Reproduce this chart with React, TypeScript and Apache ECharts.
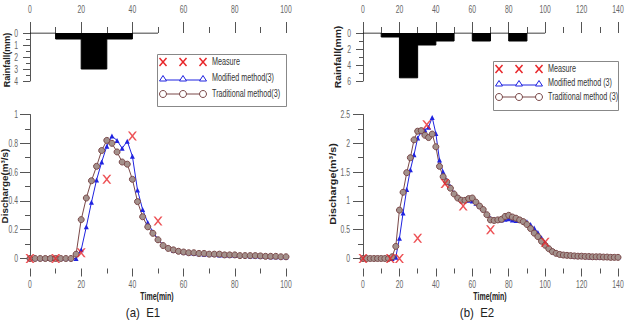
import { useEffect, useRef } from "react";
import * as echarts from "echarts";

// Sampling interval of the simulated hydrographs (minutes)
const SIM_STEP = 2;
// Rainfall is given as depths per 10-minute block
const RAIN_STEP = 10;

// Event E1
const e1Rainfall = [0, 0.5, 3, 0.5, 0];
const e1MeasureTime = [0, 10, 20, 30, 40, 50];
const e1MeasureQ = [0, 0, 0.04, 0.55, 0.85, 0.26];
const e1Modified = [
  0, 0, 0, 0, 0, 0, 0, 0, 0, 0,
  0.06, 0.22, 0.39, 0.545, 0.67, 0.78, 0.85, 0.82, 0.765, 0.815,
  0.71, 0.475, 0.34, 0.25, 0.185, 0.135, 0.095, 0.075,
  0.058, 0.05, 0.045, 0.04, 0.037, 0.033, 0.03, 0.03, 0.027, 0.025,
  0.025, 0.022, 0.02, 0.02, 0.02, 0.018, 0.018, 0.015, 0.015, 0.013,
  0.012, 0.012, 0.01,
];
const e1Traditional = [
  0, 0, 0, 0, 0, 0, 0, 0, 0,
  0.03, 0.27, 0.42, 0.54, 0.64, 0.75, 0.82, 0.8, 0.74, 0.67,
  0.655, 0.55, 0.395, 0.29, 0.22, 0.175, 0.13, 0.09, 0.07, 0.06,
  0.05, 0.045, 0.04, 0.04, 0.035, 0.035, 0.03, 0.03, 0.03, 0.025,
  0.025, 0.025, 0.02, 0.02, 0.02, 0.02, 0.018, 0.015, 0.015, 0.015,
  0.012, 0.012,
];

// Event E2
const e2Rainfall = [0, 0.5, 5.6, 1.5, 1.0, 0, 1.0, 0, 1.0, 0];
const e2MeasureTime = [0, 15, 20, 30, 35, 45, 55, 70, 100];
const e2MeasureQ = [0, 0, 0, 0.35, 2.32, 1.3, 0.91, 0.5, 0.28];
const e2Modified = [
  0, 0, 0, 0, 0, 0, 0, 0, 0,
  0.02, 0.35, 0.79, 1.2, 1.54, 1.8, 2.09, 2.2, 2.23, 2.28,
  2.45, 2.17, 1.71, 1.5, 1.36, 1.25, 1.14, 1.07, 1.02, 1.01,
  1.01, 1.0, 0.96, 0.91, 0.85, 0.77, 0.7, 0.68, 0.68, 0.67,
  0.68, 0.69, 0.67, 0.66, 0.66, 0.65, 0.64, 0.59, 0.53, 0.45,
  0.36, 0.27, 0.19, 0.13, 0.1, 0.08,
  0.065, 0.055, 0.05, 0.045, 0.04, 0.04, 0.035, 0.03, 0.03, 0.03,
  0.025, 0.025, 0.02, 0.02, 0.02, 0.02,
];
const e2Traditional = [
  0, 0, 0, 0, 0, 0, 0, 0,
  0.03, 0.21, 0.84, 1.15, 1.49, 1.75, 2.06, 2.21, 2.22, 2.14,
  2.1, 2.16, 1.94, 1.6, 1.42, 1.33, 1.22, 1.12, 1.05, 1.01,
  1.01, 1.04, 1.05, 0.98, 0.91, 0.85, 0.76, 0.67, 0.66, 0.67,
  0.68, 0.73, 0.75, 0.72, 0.7, 0.67, 0.64, 0.59, 0.52, 0.44,
  0.38, 0.3, 0.23, 0.17, 0.12, 0.09, 0.07, 0.06, 0.055, 0.05,
  0.045, 0.04, 0.04, 0.035, 0.035, 0.03, 0.03, 0.03, 0.025, 0.025,
  0.02, 0.02, 0.02,
];

// Tick labels
const e1TimeTicks = [0, 20, 40, 60, 80, 100];
const e2TimeTicks = [0, 20, 40, 60, 80, 100, 120, 140];
const e1RainTicks = [0, 1, 2, 3, 4];
const e2RainTicks = [0, 2, 4, 6];
const e1QTicks = [0, 0.2, 0.4, 0.6, 0.8, 1];
const e2QTicks = [0, 0.5, 1, 1.5, 2, 2.5];

const SANS = "'Liberation Sans', Arial, sans-serif";
const AXIS_COLOR = "#555";
const LABEL_COLOR = "#666";
const BLUE = "#1f22e0";
const BROWN = "#7a4848";
const BROWN_FILL = "#a3918c";
const RED = "#e8262a";
const X_SYMBOL = "path://M0,0L2,0L5,3.6L8,0L10,0L6,5L10,10L8,10L5,6.4L2,10L0,10L4,5Z";
// horizontal squeeze that gives the narrow look of the labels
const NARROW_X = 0.68;

const hydro = (vals: number[]) => vals.map((v, i) => [i * SIM_STEP, v]);
const pairs = (t: number[], v: number[]) => t.map((x, i) => [x, v[i]]);
// block rainfall: each value holds until the next block, closing at the end of the last block
const blocks = (r: number[]) => [...r.map((v, i) => [i * RAIN_STEP, v]), [r.length * RAIN_STEP, 0]];

const tickLine = { lineStyle: { color: AXIS_COLOR, width: 1 } };

function rainX(gridIndex: number, max: number) {
  return {
    type: "value", gridIndex, position: "top", min: 0, max, interval: 20,
    axisLine: { show: false, onZero: false },
    axisTick: { show: true, length: 11, ...tickLine },
    minorTick: { show: true, splitNumber: 2, length: 6, ...tickLine },
    splitLine: { show: false },
    axisLabel: { show: false },
  };
}
function rainY(gridIndex: number, max: number, interval: number) {
  return {
    type: "value", gridIndex, inverse: true, min: 0, max, interval,
    axisLine: { show: true, onZero: false, lineStyle: { color: AXIS_COLOR } },
    axisTick: { show: true, length: 7, ...tickLine },
    minorTick: { show: true, splitNumber: 2, length: 4, ...tickLine },
    splitLine: { show: false },
    axisLabel: { show: false },
  };
}
function timeX(gridIndex: number, max: number) {
  return {
    type: "value", gridIndex, position: "bottom", offset: 10, min: 0, max, interval: 20,
    axisLine: { show: false, onZero: false },
    axisTick: { show: true, length: 8, ...tickLine },
    minorTick: { show: true, splitNumber: 2, length: 5, ...tickLine },
    splitLine: { show: false },
    axisLabel: { show: false },
  };
}
function qY(gridIndex: number, max: number, interval: number) {
  return {
    type: "value", gridIndex, min: 0, max, interval,
    axisLine: { show: true, onZero: false, lineStyle: { color: AXIS_COLOR } },
    axisTick: { show: true, length: 10, ...tickLine },
    minorTick: { show: true, splitNumber: 2, length: 5, ...tickLine },
    splitLine: { show: false },
    axisLabel: { show: false },
  };
}

function rainSeries(idx: number, r: number[]) {
  return {
    type: "line", xAxisIndex: idx, yAxisIndex: idx, step: "end", data: blocks(r),
    symbol: "none", lineStyle: { color: "#000", width: 1 },
    areaStyle: { color: "#000", opacity: 1 },
  };
}
function modifiedSeries(idx: number, v: number[]) {
  return {
    type: "line", xAxisIndex: idx, yAxisIndex: idx, data: hydro(v),
    symbol: "triangle", symbolSize: 5,
    lineStyle: { color: BLUE, width: 1 }, itemStyle: { color: BLUE },
  };
}
function traditionalSeries(idx: number, v: number[]) {
  return {
    type: "line", xAxisIndex: idx, yAxisIndex: idx, data: hydro(v),
    symbol: "circle", symbolSize: 6,
    lineStyle: { color: BROWN, width: 1 },
    itemStyle: { color: BROWN_FILL, borderColor: BROWN, borderWidth: 1 },
  };
}
function measureSeries(idx: number, t: number[], q: number[]) {
  return {
    type: "scatter", xAxisIndex: idx, yAxisIndex: idx, data: pairs(t, q),
    symbol: X_SYMBOL, symbolSize: 9, itemStyle: { color: RED }, z: 5,
  };
}

function label(x: number, y: number, text: string, align: string, opts: any = {}) {
  return {
    type: "text", x, y, rotation: opts.rotation || 0,
    scaleX: opts.scaleX ?? NARROW_X,
    style: {
      text, fontFamily: SANS, fontWeight: opts.bold ? "bold" : "normal",
      fontSize: opts.fontSize || 10, fill: opts.fill || LABEL_COLOR,
      align, verticalAlign: "middle",
    },
  };
}

function legend(x: number, y: number, w: number, h: number, rowGap: number, labels: string[]) {
  const mx = [x + 6, x + 26, x + 46];
  const r0 = y + 8;
  const r1 = r0 + rowGap;
  const r2 = r1 + rowGap;
  const children: any[] = [
    { type: "rect", shape: { x: x + 0.5, y: y + 0.5, width: w, height: h },
      style: { fill: "#fff", stroke: "#888", lineWidth: 1 } },
  ];
  mx.forEach((cx) => {
    children.push({ type: "line", shape: { x1: cx - 3.5, y1: r0 - 4, x2: cx + 3.5, y2: r0 + 4 }, style: { stroke: RED, lineWidth: 1.5 } });
    children.push({ type: "line", shape: { x1: cx + 3.5, y1: r0 - 4, x2: cx - 3.5, y2: r0 + 4 }, style: { stroke: RED, lineWidth: 1.5 } });
  });
  children.push({ type: "line", shape: { x1: mx[0], y1: r1 + 2, x2: mx[2], y2: r1 + 2 }, style: { stroke: BLUE, lineWidth: 1 } });
  mx.forEach((cx) => {
    children.push({ type: "polygon", shape: { points: [[cx, r1 - 2.5], [cx + 3.5, r1 + 3], [cx - 3.5, r1 + 3]] },
      style: { fill: "#fff", stroke: BLUE, lineWidth: 1 } });
  });
  children.push({ type: "line", shape: { x1: mx[0], y1: r2, x2: mx[2], y2: r2 }, style: { stroke: BROWN, lineWidth: 1 } });
  mx.forEach((cx) => {
    children.push({ type: "circle", shape: { cx, cy: r2, r: 3.5 }, style: { fill: "#fff", stroke: BROWN, lineWidth: 1 } });
  });
  [r0, r1, r2].forEach((ry, i) => {
    children.push(label(x + 55, ry, labels[i], "left", { fill: "#333", scaleX: 0.72 }));
  });
  return { type: "group", children };
}

export default function App() {
  const ref = useRef<HTMLDivElement>(null);
  useEffect(() => {
    if (!ref.current) return;
    const chart = echarts.init(ref.current, null, { renderer: "svg" });
    chart.setOption({
      animation: false,
      backgroundColor: "#fff",
      grid: [
        { left: 30, top: 33, width: 256, height: 48 },
        { left: 30, top: 114.5, width: 256, height: 144 },
        { left: 363, top: 33, width: 255, height: 48 },
        { left: 363, top: 114.5, width: 255, height: 144 },
      ],
      xAxis: [rainX(0, 100), timeX(1, 100), rainX(2, 140), timeX(3, 140)],
      yAxis: [rainY(0, 4, 1), qY(1, 1, 0.2), rainY(2, 6, 2), qY(3, 2.5, 0.5)],
      series: [
        rainSeries(0, e1Rainfall),
        modifiedSeries(1, e1Modified),
        traditionalSeries(1, e1Traditional),
        measureSeries(1, e1MeasureTime, e1MeasureQ),
        rainSeries(2, e2Rainfall),
        modifiedSeries(3, e2Modified),
        traditionalSeries(3, e2Traditional),
        measureSeries(3, e2MeasureTime, e2MeasureQ),
      ],
    });

    // Tick labels, placed through the axes' own scales
    const px = (axis: string, index: number, v: number) =>
      chart.convertToPixel({ [axis + "Index"]: index } as any, v) as unknown as number;
    const ticks: any[] = [];
    e1TimeTicks.forEach((v) => {
      ticks.push(label(px("xAxis", 0, v), 9, String(v), "center"));
      ticks.push(label(px("xAxis", 1, v), 284, String(v), "center"));
    });
    e2TimeTicks.forEach((v) => {
      ticks.push(label(px("xAxis", 2, v), 9, String(v), "center"));
      ticks.push(label(px("xAxis", 3, v), 284, String(v), "center"));
    });
    e1RainTicks.forEach((v) => ticks.push(label(18, px("yAxis", 0, v), String(v), "right")));
    e2RainTicks.forEach((v) => ticks.push(label(351, px("yAxis", 2, v), String(v), "right")));
    e1QTicks.forEach((v) => ticks.push(label(18, px("yAxis", 1, v), String(v), "right")));
    e2QTicks.forEach((v) => ticks.push(label(350, px("yAxis", 3, v), String(v), "right")));

    const vertical = { rotation: Math.PI / 2, bold: true, fontSize: 9, fill: "#222" };
    chart.setOption({
      graphic: [
        ...ticks,
        label(7, 60, "Rainfall(mm)", "center", { ...vertical, scaleX: 1 }),
        label(4.5, 186, "Discharge(m³/s)", "center", { ...vertical, scaleX: 1.1 }),
        label(338, 57, "Rainfall(mm)", "center", { ...vertical, scaleX: 1.15 }),
        label(333, 184, "Discharge(m³/s)", "center", { ...vertical, scaleX: 1.2 }),
        label(157, 297, "Time(min)", "center", { bold: true, fontSize: 10, fill: "#222", scaleX: 0.7 }),
        label(490, 297, "Time(min)", "center", { bold: true, fontSize: 10, fill: "#222", scaleX: 0.7 }),
        label(143, 313, "(a)  E1", "center", { fontSize: 13, fill: "#222", scaleX: 0.88 }),
        label(477, 313, "(b)  E2", "center", { fontSize: 13, fill: "#222", scaleX: 0.88 }),
        legend(157, 54, 129, 52, 16, ["Measure", "Modified method(3)", "Traditional method(3)"]),
        legend(493, 61, 125, 49, 14, ["Measure", "Modified method (3)", "Traditional method (3)"]),
      ],
    });
    return () => chart.dispose();
  }, []);
  return (
    <div
      ref={ref}
      style={{ position: "fixed", left: 0, top: 0, width: 627, height: 323, background: "#fff" }}
    />
  );
}
